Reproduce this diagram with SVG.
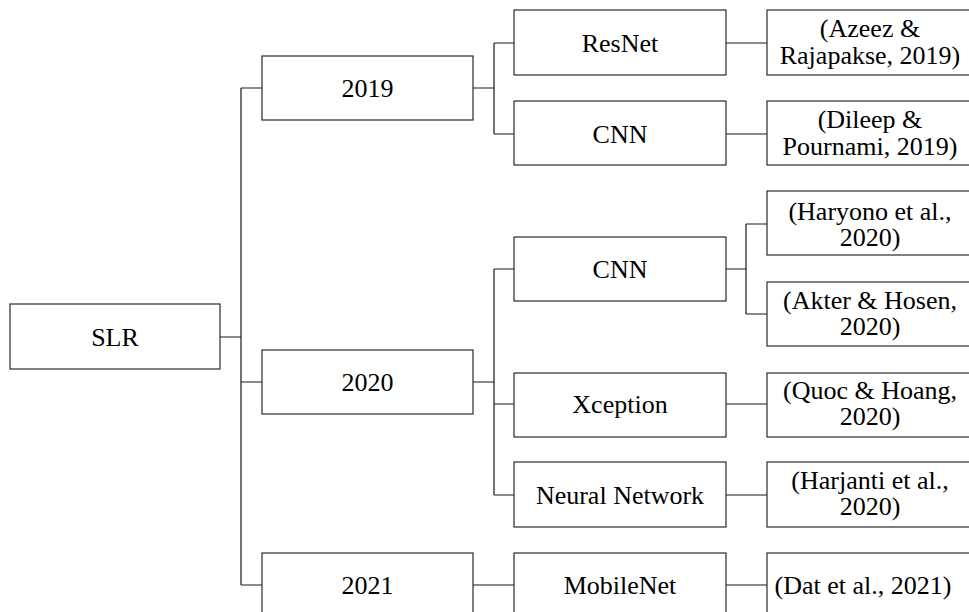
<svg xmlns="http://www.w3.org/2000/svg" width="969" height="612" viewBox="0 0 969 612">
<rect width="969" height="612" fill="#fff"/>
<g id="connectors" fill="none" stroke="#1a1a1a" stroke-width="1.2">
<path d="M220 337H241M241 88V585M241 88H262M241 382H262M241 585H262"/>
<path d="M473 88H494M494 43V134M494 43H514M494 134H514"/>
<path d="M473 382H494M494 269V495M494 269H514M494 404H514M494 495H514"/>
<path d="M473 585H514"/>
<path d="M726 43H767M726 134H767"/>
<path d="M726 269H746M746 224V314M746 224H767M746 314H767"/>
<path d="M726 404H767M726 495H767M726 585H767"/>
</g>
<g id="boxes" fill="#fff" stroke="#2a2a2a" stroke-width="1.2">
<rect id="b-slr" x="10" y="304" width="210" height="65"/>
<rect id="b-2019" x="262" y="56" width="211" height="64"/>
<rect id="b-2020" x="262" y="350" width="211" height="64"/>
<rect id="b-2021" x="262" y="553" width="211" height="70"/>
<rect id="b-resnet" x="514" y="10" width="212" height="65"/>
<rect id="b-cnn2019" x="514" y="101" width="212" height="64"/>
<rect id="b-cnn2020" x="514" y="237" width="212" height="64"/>
<rect id="b-xception" x="514" y="373" width="212" height="64"/>
<rect id="b-nn" x="514" y="462" width="212" height="65"/>
<rect id="b-mobilenet" x="514" y="553" width="212" height="70"/>
<rect id="b-azeez" x="767" y="10" width="210" height="65"/>
<rect id="b-dileep" x="767" y="101" width="210" height="64"/>
<rect id="b-haryono" x="767" y="191" width="210" height="64"/>
<rect id="b-akter" x="767" y="282" width="210" height="64"/>
<rect id="b-quoc" x="767" y="373" width="210" height="64"/>
<rect id="b-harjanti" x="767" y="462" width="210" height="65"/>
<rect id="b-dat" x="767" y="553" width="210" height="70"/>
</g>
<g id="labels" font-family="Liberation Serif" font-size="26" text-anchor="middle" fill="#000">
<g id="n-slr"><text x="115" y="346">SLR</text></g>
<g id="n-2019"><text x="367.5" y="97">2019</text></g>
<g id="n-2020"><text x="367.5" y="391">2020</text></g>
<g id="n-2021"><text x="367.5" y="594">2021</text></g>
<g id="n-resnet"><text x="620" y="52">ResNet</text></g>
<g id="n-cnn2019"><text x="620" y="143">CNN</text></g>
<g id="n-cnn2020"><text x="620" y="278">CNN</text></g>
<g id="n-xception"><text x="620" y="413">Xception</text></g>
<g id="n-nn"><text x="620" y="504">Neural Network</text></g>
<g id="n-mobilenet"><text x="620" y="594">MobileNet</text></g>
<g id="n-azeez"><text x="870" y="37">(Azeez &amp;</text><text x="870" y="64">Rajapakse, 2019)</text></g>
<g id="n-dileep"><text x="870" y="128">(Dileep &amp;</text><text x="870" y="155">Pournami, 2019)</text></g>
<g id="n-haryono"><text x="870" y="220">(Haryono et al.,</text><text x="870" y="246">2020)</text></g>
<g id="n-akter"><text x="870" y="309">(Akter &amp; Hosen,</text><text x="870" y="335">2020)</text></g>
<g id="n-quoc"><text x="870" y="399">(Quoc &amp; Hoang,</text><text x="870" y="425">2020)</text></g>
<g id="n-harjanti"><text x="870" y="489">(Harjanti et al.,</text><text x="870" y="515">2020)</text></g>
<g id="n-dat"><text x="863" y="594">(Dat et al., 2021)</text></g>
</g>
</svg>
